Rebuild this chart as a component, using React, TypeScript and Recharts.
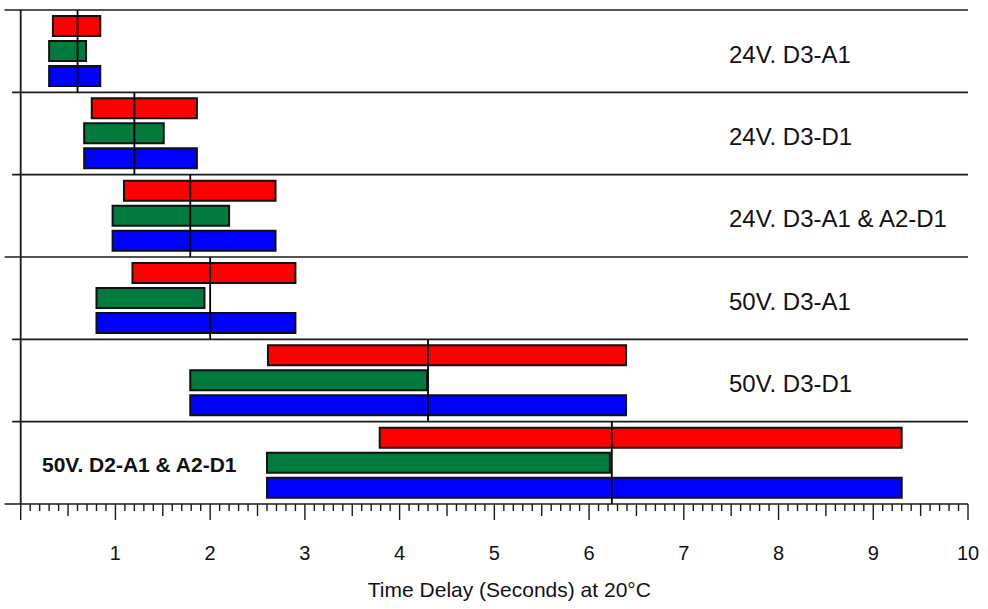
import React from 'react';
import { ComposedChart, Bar, XAxis, YAxis, ReferenceLine, Label, LabelList } from 'recharts';

const bands = ['24V. D3-A1', '24V. D3-D1', '24V. D3-A1 & A2-D1', '50V. D3-A1', '50V. D3-D1', '50V. D2-A1 & A2-D1'];
const redStart = [0.34, 0.75, 1.09, 1.18, 2.61, 3.79];
const redEnd = [0.84, 1.86, 2.69, 2.90, 6.39, 9.30];
const greenStart = [0.30, 0.67, 0.97, 0.80, 1.79, 2.60];
const greenEnd = [0.69, 1.51, 2.20, 1.94, 4.29, 6.22];
const blueStart = [0.30, 0.67, 0.97, 0.80, 1.79, 2.60];
const blueEnd = [0.84, 1.86, 2.69, 2.90, 6.39, 9.30];
const markers = [0.60, 1.20, 1.79, 2.00, 4.30, 6.24];
const majorTickLabels = ['1', '2', '3', '4', '5', '6', '7', '8', '9', '10'];
const xTitle = 'Time Delay (Seconds) at 20°C';

const xTicks: number[] = [];
for (let i = 0; i <= 100; i++) xTicks.push(i / 10);

const rows = bands.map((band, i) => ({
  band,
  red: [redStart[i], redEnd[i]],
  green: [greenStart[i], greenEnd[i]],
  blue: [blueStart[i], blueEnd[i]],
}));

const FONT = '"Liberation Sans", Arial, Helvetica, sans-serif';
const INK = '#1a1a1a';

const XTick = (props: any) => {
  const { x, y, payload } = props;
  const v = Math.round(payload.value * 10);
  const major = v % 10 === 0;
  const len = major ? 16 : v % 5 === 0 ? 12 : 7;
  const idx = v / 10 - 1;
  return (
    <g>
      <line x1={x} y1={y} x2={x} y2={y + len} stroke={INK} strokeWidth={1.4} />
      {major && v > 0 && (
        <text x={x} y={y + 55.5} textAnchor="middle" fontSize={20} fontFamily={FONT} fill="#111">
          {majorTickLabels[idx]}
        </text>
      )}
    </g>
  );
};

const BandLabel = (props: any) => {
  const vb = props.viewBox || props;
  const cy = vb.y + vb.height / 2;
  const index = props.index ?? bands.indexOf(props.value);
  const text = bands[index];
  if (index === bands.length - 1) {
    return (
      <text x={42} y={cy + 9.5} fontSize={21} fontWeight="bold" fontFamily={FONT} fill="#111">
        {text}
      </text>
    );
  }
  return (
    <text x={729} y={cy + 11.5} fontSize={24} fontFamily={FONT} fill="#111">
      {text}
    </text>
  );
};

export default function App() {
  const last = bands.length - 1;
  return (
    <div style={{ position: 'absolute', left: 0, top: 0, background: '#fff' }}>
      <ComposedChart
        layout="vertical"
        width={988}
        height={609}
        data={rows}
        margin={{ top: 10, right: 20, bottom: 0, left: 20.7 }}
        barSize={20}
        barGap={5}
        barCategoryGap={0}
      >
        <XAxis
          type="number"
          domain={[0, 10]}
          allowDataOverflow
          ticks={xTicks}
          interval={0}
          tick={<XTick />}
          tickLine={false}
          axisLine={false}
          tickSize={0}
          tickMargin={0}
          height={105}
        >
          <Label
            content={(p: any) => {
              const vb = p.viewBox;
              return (
                <text x={vb.x + vb.width / 2 + 15} y={vb.y + 93} textAnchor="middle" fontSize={21} fontFamily={FONT} fill="#111">
                  {xTitle}
                </text>
              );
            }}
          />
        </XAxis>
        <YAxis type="category" dataKey="band" hide />
        <Bar dataKey="red" fill="#FF0000" stroke="#111" strokeWidth={2} isAnimationActive={false} />
        <Bar dataKey="green" fill="#007A3D" stroke="#111" strokeWidth={2} isAnimationActive={false}>
          <LabelList dataKey="band" content={<BandLabel />} />
        </Bar>
        <Bar dataKey="blue" fill="#0000FF" stroke="#111" strokeWidth={2} isAnimationActive={false} />
        {bands.map((b, i) => (
          <ReferenceLine
            key={'h' + i}
            ifOverflow="visible"
            position="start"
            segment={[{ x: i === 0 || i === 3 ? -0.17 : -0.09, y: b }, { x: 10, y: b }]}
            stroke={INK}
            strokeWidth={1.6}
          />
        ))}
        <ReferenceLine
          ifOverflow="visible"
          position="end"
          segment={[{ x: -0.17, y: bands[last] }, { x: 10, y: bands[last] }]}
          stroke={INK}
          strokeWidth={1.6}
        />
        <ReferenceLine x={0} ifOverflow="visible" stroke={INK} strokeWidth={1.8} />
        {markers.map((m, i) => (
          <ReferenceLine
            key={'m' + i}
            ifOverflow="visible"
            position={i < last ? 'start' : 'end'}
            segment={
              i < last
                ? [{ x: m, y: bands[i] }, { x: m, y: bands[i + 1] }]
                : [{ x: m, y: bands[i - 1] }, { x: m, y: bands[i] }]
            }
            stroke="#000"
            strokeWidth={1.8}
          />
        ))}
      </ComposedChart>
    </div>
  );
}
